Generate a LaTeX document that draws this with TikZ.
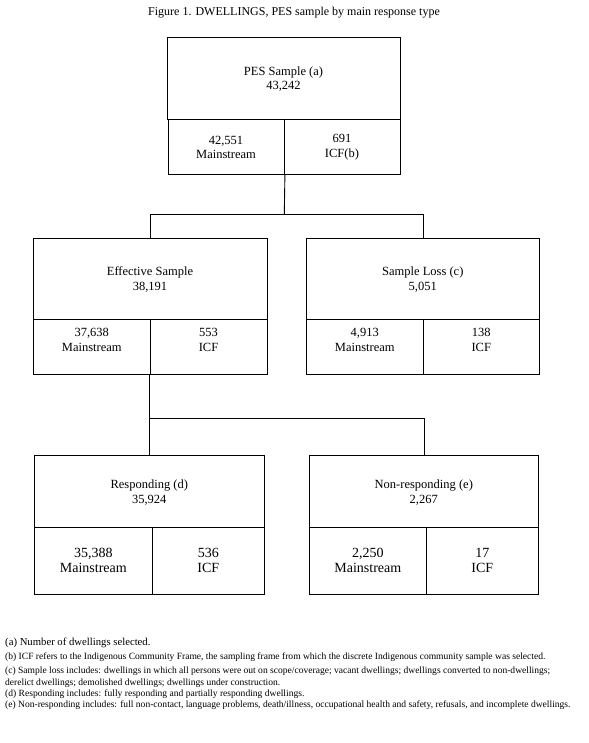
\documentclass[tikz,border=0pt]{standalone}
\usepackage{fontspec}
\setmainfont{Liberation Serif}
\begin{document}
\begin{tikzpicture}[x=1pt,y=-1pt,
  cell/.style={draw, line width=0.9pt, rectangle, anchor=north west, inner sep=0pt},
  head/.style={font=\fontsize{12.5}{14.4}\selectfont, align=center, inner sep=0pt},
  midtxt/.style={font=\fontsize{12.5}{14.7}\selectfont, align=center, inner sep=0pt},
  bottxt/.style={font=\fontsize{14}{15}\selectfont, align=center, inner sep=0pt},
  conn/.style={line width=0.9pt},
  note/.style={anchor=west, inner sep=0pt, font=\fontsize{9.55}{11}\selectfont}]
\useasboundingbox (0,0) rectangle (588,743);

\node[font=\fontsize{12}{14}\selectfont, inner sep=0pt] (title) at (294,13) {Figure 1. DWELLINGS, PES sample by main response type};

% top box
\node[cell, minimum width=233pt, minimum height=81.7pt] (pes) at (167,37) {};
\node[cell, minimum width=116pt, minimum height=55.3pt] (pesL) at (168,118.7) {};
\node[cell, minimum width=116pt, minimum height=55.3pt] (pesR) at (284,118.7) {};
\node[head] (pesT) at (283.5,79) {PES Sample (a)\\43,242};
\node[midtxt] (pesLT) at (226,147.5) {42,551\\Mainstream};
\node[midtxt] (pesRT) at (342,147.5) {691\\ICF(b)};

% effective sample
\node[cell, minimum width=233.4pt, minimum height=81pt] (eff) at (33.3,238.3) {};
\node[cell, minimum width=117pt, minimum height=55pt] (effL) at (33.3,319.3) {};
\node[cell, minimum width=116.4pt, minimum height=55pt] (effR) at (150.3,319.3) {};
\node[head] (effT) at (150,279.5) {Effective Sample\\38,191};
\node[midtxt] (effLT) at (91.8,340) {37,638\\Mainstream};
\node[midtxt] (effRT) at (208.5,340) {553\\ICF};

% sample loss
\node[cell, minimum width=233pt, minimum height=81pt] (loss) at (306.3,238.3) {};
\node[cell, minimum width=117pt, minimum height=55pt] (lossL) at (306.3,319.3) {};
\node[cell, minimum width=116pt, minimum height=55pt] (lossR) at (423.3,319.3) {};
\node[head] (lossT) at (422.8,279.5) {Sample Loss (c)\\5,051};
\node[midtxt] (lossLT) at (364.8,340) {4,913\\Mainstream};
\node[midtxt] (lossRT) at (481.3,340) {138\\ICF};

% responding
\node[cell, minimum width=230pt, minimum height=72pt] (resp) at (34.3,455.3) {};
\node[cell, minimum width=118pt, minimum height=67pt] (respL) at (34.3,527.3) {};
\node[cell, minimum width=112pt, minimum height=67pt] (respR) at (152.3,527.3) {};
\node[head] (respT) at (149.3,492.5) {Responding (d)\\35,924};
\node[bottxt] (respLT) at (93.3,560.5) {35,388\\Mainstream};
\node[bottxt] (respRT) at (208.3,560.5) {536\\ICF};

% non-responding
\node[cell, minimum width=229pt, minimum height=72pt] (non) at (309.3,455.3) {};
\node[cell, minimum width=117pt, minimum height=67pt] (nonL) at (309.3,527.3) {};
\node[cell, minimum width=112pt, minimum height=67pt] (nonR) at (426.3,527.3) {};
\node[head] (nonT) at (423.8,492.5) {Non-responding (e)\\2,267};
\node[bottxt] (nonLT) at (367.8,560.5) {2,250\\Mainstream};
\node[bottxt] (nonRT) at (482.3,560.5) {17\\ICF};

% connectors
\coordinate (j1) at (284.3,214.3);
\coordinate (j2) at (149.3,418.3);
\draw[conn] (pesL.south east) -- (j1);
\draw[conn] (eff.north) |- (j1) -| (loss.north);
\draw[conn] (resp.north) -- (resp.north |- effL.south);
\draw[conn] (resp.north) |- (j2) -| (non.north);

% notes
\node[note, font=\fontsize{10.7}{12}\selectfont] (na) at (5,643) {(a) Number of dwellings selected.};
\node[note] (nb) at (5,657) {(b) ICF refers to the Indigenous Community Frame, the sampling frame from which the discrete Indigenous community sample was selected.};
\node[note] (nc) at (5,671) {(c) Sample loss includes: dwellings in which all persons were out on scope/coverage; vacant dwellings; dwellings converted to non-dwellings;};
\node[note] (nc2) at (5,683) {derelict dwellings; demolished dwellings; dwellings under construction.};
\node[note] (nd) at (5,694) {(d) Responding includes: fully responding and partially responding dwellings.};
\node[note] (ne) at (5,705) {(e) Non-responding includes: full non-contact, language problems, death/illness, occupational health and safety, refusals, and incomplete dwellings.};
\end{tikzpicture}
\end{document}
